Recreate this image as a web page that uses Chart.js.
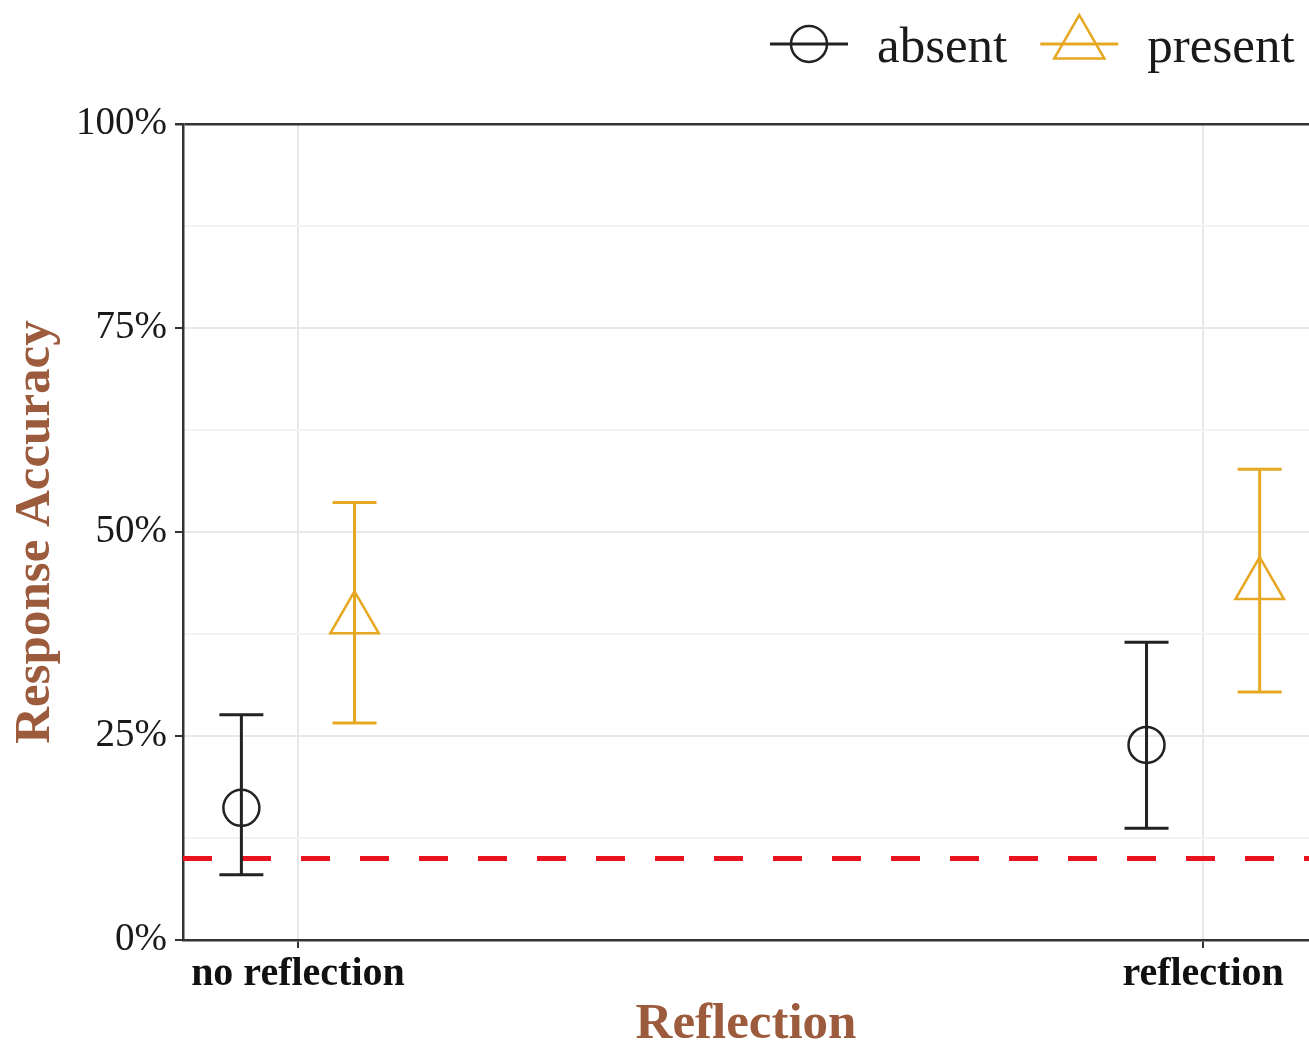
<!DOCTYPE html>
<html>
<head>
<meta charset="utf-8">
<script src="https://cdn.jsdelivr.net/npm/chart.js@4/dist/chart.umd.min.js"></script>
<style>
  html, body { margin: 0; padding: 0; background: #fff; }
  #wrap { width: 1309px; height: 1044px; }
</style>
</head>
<body>
<div id="wrap"><canvas id="chart" width="1309" height="1044"></canvas></div>
<script>
// data (percent)
const categories = ['no reflection', 'reflection'];
const groups = ['absent', 'present'];
const absentMean = [16.2, 23.9];
const absentLow = [8.0, 13.7];
const absentHigh = [27.6, 36.5];
const presentMean = [39.3, 43.5];
const presentLow = [26.6, 30.4];
const presentHigh = [53.6, 57.7];
const chanceLevel = 10;
const yTickValues = [0, 25, 50, 75, 100];

const DODGE = 0.0625;
const X_MIN = 0.873;
const X_MAX = 2.117;
const SERIF = '"Liberation Serif", "Times New Roman", serif';
const BLACK = '#222222';
const ORANGE = '#E6A823';
const BROWN = '#9C5B3C';

function points(means, shift) {
    return means.map((v, i) => ({x: i + 1 + shift, y: v}));
}

// error bars drawn through the chart scales
const errorBars = {
    id: 'errorBars',
    afterDatasetsDraw(chart) {
        const ctx = chart.ctx;
        const yScale = chart.scales.y;
        chart.data.datasets.forEach((ds, di) => {
            if (!ds.low) return;
            const meta = chart.getDatasetMeta(di);
            ctx.save();
            ctx.strokeStyle = ds.borderColor;
            ctx.lineWidth = 3;
            meta.data.forEach((el, i) => {
                const yl = yScale.getPixelForValue(ds.low[i]);
                const yh = yScale.getPixelForValue(ds.high[i]);
                ctx.beginPath();
                ctx.moveTo(el.x, yl); ctx.lineTo(el.x, yh);
                ctx.moveTo(el.x - 22, yl); ctx.lineTo(el.x + 22, yl);
                ctx.moveTo(el.x - 22, yh); ctx.lineTo(el.x + 22, yh);
                ctx.stroke();
            });
            ctx.restore();
        });
    }
};

// legend at the top right: line + symbol + label
const topLegend = {
    id: 'topLegend',
    afterDraw(chart) {
        const ctx = chart.ctx;
        ctx.save();
        ctx.font = '51px ' + SERIF;
        ctx.textBaseline = 'alphabetic';
        let x = 770;
        const yc = 44;
        chart.data.datasets.forEach(ds => {
            if (!ds.low) return;
            ctx.strokeStyle = ds.borderColor;
            ctx.lineWidth = 3;
            ctx.beginPath();
            ctx.moveTo(x, yc); ctx.lineTo(x + 78, yc);
            ctx.stroke();
            const cx = x + 39;
            ctx.lineWidth = 2.5;
            ctx.beginPath();
            if (ds.pointStyle === 'triangle') {
                const r = 29;
                ctx.moveTo(cx, yc - r);
                ctx.lineTo(cx + r * Math.sin(2 * Math.PI / 3), yc + r / 2);
                ctx.lineTo(cx - r * Math.sin(2 * Math.PI / 3), yc + r / 2);
                ctx.closePath();
            } else {
                ctx.arc(cx, yc, 18, 0, 2 * Math.PI);
            }
            ctx.stroke();
            ctx.fillStyle = '#1a1a1a';
            ctx.fillText(ds.label, x + 107, 62);
            x += 107 + ctx.measureText(ds.label).width + 33;
        });
        ctx.restore();
    }
};

new Chart(document.getElementById('chart'), {
    type: 'scatter',
    data: {
        datasets: [
            {
                label: 'chance',
                type: 'line',
                data: [{x: X_MIN, y: chanceLevel}, {x: X_MAX, y: chanceLevel}],
                borderColor: '#E8131F',
                borderWidth: 5,
                borderDash: [29, 30],
                pointRadius: 0,
                fill: false,
                order: 3
            },
            {
                label: groups[0],
                data: points(absentMean, -DODGE),
                low: absentLow,
                high: absentHigh,
                pointStyle: 'circle',
                pointRadius: 18,
                borderWidth: 2.5,
                borderColor: BLACK,
                backgroundColor: 'rgba(0,0,0,0)',
                order: 1
            },
            {
                label: groups[1],
                data: points(presentMean, DODGE),
                low: presentLow,
                high: presentHigh,
                pointStyle: 'triangle',
                pointRadius: 28,
                borderWidth: 2.5,
                borderColor: ORANGE,
                backgroundColor: 'rgba(0,0,0,0)',
                order: 2
            }
        ]
    },
    options: {
        responsive: false,
        animation: false,
        layout: {autoPadding: false, padding: {left: 0, right: 0, top: 124, bottom: 0}},
        plugins: {
            legend: {display: false},
            tooltip: {enabled: false}
        },
        scales: {
            x: {
                type: 'linear',
                min: X_MIN,
                max: X_MAX,
                afterBuildTicks: s => { s.ticks = categories.map((c, i) => ({value: i + 1})); },
                afterFit: s => { s.height = 104; s.paddingLeft = 0; s.paddingRight = 0; },
                ticks: {
                    callback: v => categories[Math.round(v) - 1],
                    color: '#111',
                    font: {family: SERIF, size: 40, weight: 'bold'},
                    padding: 3,
                    maxRotation: 0,
                    autoSkip: false
                },
                grid: {color: '#e8e8e8', lineWidth: 2, tickLength: 8, tickColor: '#333'},
                border: {color: '#333', width: 2.5},
                title: {
                    display: true,
                    text: 'Reflection',
                    color: BROWN,
                    font: {family: SERIF, size: 51, weight: 'bold', lineHeight: 1},
                    padding: {top: 0, bottom: -6}
                }
            },
            y: {
                min: 0,
                max: 100,
                afterBuildTicks: s => {
                    const t = [];
                    for (let v = 0; v <= 100; v += 12.5) t.push({value: v});
                    s.ticks = t;
                },
                afterFit: s => { s.width = 183; },
                ticks: {
                    callback: v => yTickValues.includes(v) ? v + '%' : '',
                    color: '#1a1a1a',
                    font: {family: SERIF, size: 39},
                    padding: 8,
                    autoSkip: false
                },
                grid: {
                    color: c => {
                        const v = c.tick ? c.tick.value : 0;
                        if (v === 100) return '#333';
                        return yTickValues.includes(v) ? '#e8e8e8' : '#f3f3f3';
                    },
                    lineWidth: c => (c.tick && c.tick.value === 100) ? 2.5 : 2,
                    tickLength: 8,
                    tickColor: c => (c.tick && yTickValues.includes(c.tick.value)) ? '#333' : 'rgba(0,0,0,0)'
                },
                border: {color: '#333', width: 2.5},
                title: {
                    display: true,
                    text: 'Response Accuracy',
                    color: BROWN,
                    font: {family: SERIF, size: 51, weight: 'bold', lineHeight: 1},
                    padding: {top: 10, bottom: 0}
                }
            }
        }
    },
    plugins: [errorBars, topLegend]
});
</script>
</body>
</html>
